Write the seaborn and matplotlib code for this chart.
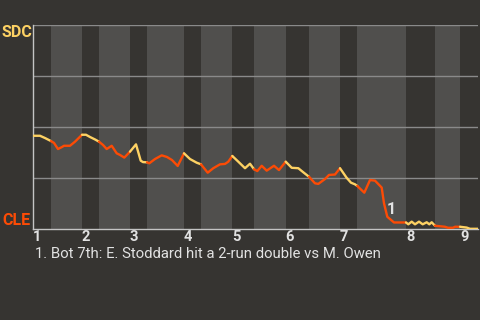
import matplotlib
matplotlib.use("Agg")
import matplotlib.pyplot as plt
import pandas as pd
import seaborn as sns

# ---- data ----
play_pos = [0, 7, 12, 18, 21, 25, 29, 31, 37, 42, 49, 53, 57, 62, 66, 70, 73.7, 78.7, 83.7, 87,
            91.3, 97, 103, 107.7, 110, 114, 116.3, 122, 128.7, 134, 139, 144.7, 151, 157, 163.7,
            168, 174.7, 180.3, 187, 192, 195.3, 199.3, 205.3, 212, 217, 221, 224.3, 228.7, 233.7,
            241, 246, 252.7, 258.7, 265.3, 270.3, 276, 282, 285.3, 292, 296, 302, 307, 313.5, 318,
            322, 324.3, 331.3, 337, 342, 348.7, 351, 354.3, 361, 373, 375.3, 378.7, 382, 386,
            389.7, 393.7, 396.3, 398.7, 402, 412, 415, 420, 422, 427, 433.7, 437, 445]
sdc_wp = [45.7, 45.7, 44.6, 43.1, 42.2, 39.2, 40.2, 40.8, 40.8, 42.8, 46.2, 46.2, 45.1, 43.9, 42.8,
          41.2, 39.2, 40.8, 37.1, 36.3, 35.0, 37.9, 41.5, 33.5, 32.8, 32.7, 32.2, 34.3, 36.1, 35.3,
          33.8, 30.9, 37.1, 34.3, 32.5, 31.7, 27.6, 29.8, 31.7, 31.9, 33.0, 35.8, 33.0, 29.8, 32.0,
          29.3, 28.4, 31.0, 28.6, 31.0, 28.9, 33.0, 30.0, 29.8, 27.8, 25.6, 22.4, 22.1, 24.5, 26.5,
          26.7, 29.8, 25.2, 22.7, 21.9, 21.1, 17.8, 24.0, 23.7, 20.3, 12.6, 6.0, 3.2, 3.2, 2.3,
          3.6, 2.3, 3.6, 2.3, 3.3, 2.3, 3.3, 1.6, 1.1, 0.6, 0.6, 1.1, 1.1, 0.7, 0.1, 0.1]
half_starts = [0, 18, 49, 66, 97, 114, 151, 168, 199.3, 221, 252.7, 276, 307, 324.3, 373, 402, 427]
game_end = 445
inning_labels = ["1", "2", "3", "4", "5", "6", "7", "8", "9"]
team_top = "SDC"
team_bottom = "CLE"
note_pos = 358
note_wp = 9.8
note_label = "1"
caption = "1. Bot 7th: E. Stoddard hit a 2-run double vs M. Owen"

# ---- style ----
BG = "#363431"
BAND = "#504f4d"
GRID = "#8a8a8a"
SPINE = "#c4c4c4"
YEL = "#fdd163"
ORG = "#fc4b05"
TXT = "#e2e2e2"

sns.set_theme(style="dark", rc={"axes.facecolor": BG, "figure.facecolor": BG})
plt.rcParams["font.family"] = ["Roboto", "DejaVu Sans"]

fig = plt.figure(figsize=(4.8, 3.2), dpi=100)
ax = fig.add_axes([33 / 480, 91 / 320, 445 / 480, 204 / 320])
ax.set_facecolor(BG)

ends = half_starts[1:] + [game_end]
for i, (s, e) in enumerate(zip(half_starts, ends)):
    if i % 2 == 1:
        ax.axvspan(s, e, color=BAND, lw=0, zorder=0)

df = pd.DataFrame({"pos": play_pos, "wp": sdc_wp})
for i, (s, e) in enumerate(zip(half_starts, ends)):
    seg = df[(df.pos >= s) & (df.pos <= e)]
    if len(seg) == 0 or seg.pos.iloc[0] > s:
        prev = df[df.pos < s].tail(1)
        seg = pd.concat([prev, seg])
    sns.lineplot(data=seg, x="pos", y="wp", color=YEL if i % 2 == 0 else ORG,
                 lw=1.7, estimator=None, sort=False, ax=ax, zorder=3)

ax.set_xlim(0, game_end)
ax.set_ylim(0, 100)
ax.set_yticks([25, 50, 75, 100])
ax.set_yticklabels([])
ax.yaxis.grid(True, color=GRID, lw=1)
ax.xaxis.grid(False)
ax.tick_params(axis="y", length=0)

inning_starts = half_starts[0::2]
ax.set_xticks(inning_starts)
ax.set_xticklabels(inning_labels, ha="left", fontsize=10.5, fontweight="bold", color=TXT)
ax.tick_params(axis="x", length=0, pad=1.0)
ax.set_xlabel("")
ax.set_ylabel("")

for side in ["top", "right"]:
    ax.spines[side].set_visible(False)
for side in ["left", "bottom"]:
    ax.spines[side].set_visible(True)
    ax.spines[side].set_color(SPINE)
    ax.spines[side].set_linewidth(1)

ax.text(note_pos, note_wp, note_label, ha="center", va="center", fontsize=11.5,
        fontweight="bold", color=TXT, zorder=4)

fig.text(0.004, 1 - 36.7 / 320, team_top, va="baseline", ha="left", fontsize=11.5,
         fontweight="bold", color=YEL)
fig.text(0.004, 1 - 225 / 320, team_bottom, va="baseline", ha="left", fontsize=11.5,
         fontweight="bold", color=ORG)
fig.text(35 / 480, 1 - 257.7 / 320, caption, va="baseline", ha="left", fontsize=10.7,
         color=TXT)

fig.savefig("out.png", dpi=100, facecolor=BG)
